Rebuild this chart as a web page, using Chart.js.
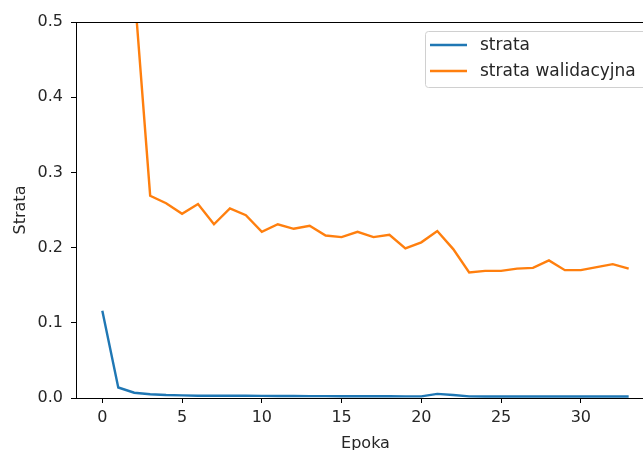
<!DOCTYPE html>
<html>
<head>
<meta charset="utf-8">
<script src="https://cdn.jsdelivr.net/npm/chart.js@4/dist/chart.umd.min.js"></script>
<style>
  html, body { margin: 0; padding: 0; background: #fff; overflow: hidden; }
  #wrap { width: 660px; height: 450px; }
</style>
</head>
<body>
<div id="wrap"><canvas id="c" width="660" height="450"></canvas></div>
<script>
// dane z wykresu
const epochs = [0, 1, 2, 3, 4, 5, 6, 7, 8, 9, 10, 11, 12, 13, 14, 15, 16,
  17, 18, 19, 20, 21, 22, 23, 24, 25, 26, 27, 28, 29, 30, 31, 32, 33]
const loss = [0.116, 0.014, 0.007, 0.005, 0.004, 0.0035, 0.003, 0.003, 0.003, 0.003,
  0.0028, 0.0027, 0.0026, 0.0025, 0.0025, 0.0024, 0.0024, 0.0023, 0.0023, 0.0022,
  0.0022, 0.0055, 0.004, 0.0022, 0.002, 0.002, 0.002, 0.002, 0.002, 0.002,
  0.002, 0.002, 0.002, 0.002]
const valLoss = [0.505, 0.9, 0.545, 0.269, 0.259, 0.245, 0.258, 0.231, 0.252, 0.243,
  0.221, 0.231, 0.225, 0.229, 0.216, 0.214, 0.221, 0.214, 0.217, 0.199,
  0.207, 0.222, 0.198, 0.167, 0.169, 0.169, 0.172, 0.173, 0.183, 0.170,
  0.170, 0.174, 0.178, 0.172]
const xTicks = [0, 5, 10, 15, 20, 25, 30]
const yTicks = [0, 0.1, 0.2, 0.3, 0.4, 0.5]
const seriesNames = ['strata', 'strata walidacyjna']
const colors = ['#1f77b4', '#ff7f0e']

const FONT = 'DejaVu Sans'
const TXT = '#262626'
const LW = 2.4

function toPoints(vals) {
  return epochs.map((e, i) => ({ x: e, y: vals[i] }))
}

// ramka osi (gorna i prawa krawedz)
const framePlugin = {
  id: 'frame',
  afterDraw(chart) {
    const { ctx, chartArea: a } = chart
    ctx.save()
    ctx.strokeStyle = '#000'
    ctx.lineWidth = 1
    ctx.strokeRect(a.left + 0.5, a.top + 0.5, a.right - a.left, a.bottom - a.top)
    ctx.restore()
  }
}

// legenda w prawym gornym rogu jak w matplotlib
const legendBox = {
  id: 'legendBox',
  afterDraw(chart) {
    const { ctx, chartArea: a } = chart
    const x0 = a.right - 230, y0 = a.top + 9, w = 223, h = 56
    ctx.save()
    ctx.beginPath()
    ctx.roundRect(x0 + 0.5, y0 + 0.5, w, h, 3)
    ctx.fillStyle = 'rgba(255,255,255,0.8)'
    ctx.fill()
    ctx.strokeStyle = '#d0d0d0'
    ctx.lineWidth = 1
    ctx.stroke()
    ctx.font = '17px "' + FONT + '"'
    ctx.textBaseline = 'middle'
    seriesNames.forEach((name, i) => {
      const y = y0 + 14 + i * 26
      ctx.strokeStyle = colors[i]
      ctx.lineWidth = LW
      ctx.beginPath()
      ctx.moveTo(x0 + 5, y)
      ctx.lineTo(x0 + 42, y)
      ctx.stroke()
      ctx.fillStyle = TXT
      ctx.fillText(name, x0 + 55, y + 1)
    })
    ctx.restore()
  }
}

new Chart(document.getElementById('c'), {
  type: 'line',
  data: {
    datasets: [
      { label: seriesNames[0], data: toPoints(loss), borderColor: colors[0], borderWidth: LW, pointRadius: 0, tension: 0 },
      { label: seriesNames[1], data: toPoints(valLoss), borderColor: colors[1], borderWidth: LW, pointRadius: 0, tension: 0 }
    ]
  },
  options: {
    responsive: false,
    animation: false,
    layout: { padding: { left: 0, top: 22, right: 5, bottom: 0 } },
    plugins: {
      legend: { display: false },
      tooltip: { enabled: false }
    },
    scales: {
      x: {
        type: 'linear',
        min: -1.65,
        max: 34.65,
        afterBuildTicks: s => { s.ticks = xTicks.map(v => ({ value: v })) },
        afterFit: s => { s.height = 52 },
        grid: { drawOnChartArea: false, tickLength: 5, color: '#000', tickColor: '#000' },
        border: { color: '#000', width: 1 },
        ticks: { color: TXT, font: { family: FONT, size: 16 }, padding: 5, maxRotation: 0 },
        title: { display: true, text: 'Epoka', color: TXT, font: { family: FONT, size: 16, lineHeight: 0.8 }, padding: { top: 0, bottom: 0 } }
      },
      y: {
        min: 0,
        max: 0.5,
        afterBuildTicks: s => { s.ticks = yTicks.map(v => ({ value: v })) },
        afterFit: s => { s.width = 76 },
        grid: { drawOnChartArea: false, tickLength: 5, color: '#000', tickColor: '#000' },
        border: { color: '#000', width: 1 },
        ticks: { color: TXT, font: { family: FONT, size: 16 }, padding: 8, callback: v => v.toFixed(1) },
        title: { display: true, text: 'Strata', color: TXT, font: { family: FONT, size: 16 }, padding: { top: 11, bottom: 0 } }
      }
    }
  },
  plugins: [framePlugin, legendBox]
})
</script>
</body>
</html>
